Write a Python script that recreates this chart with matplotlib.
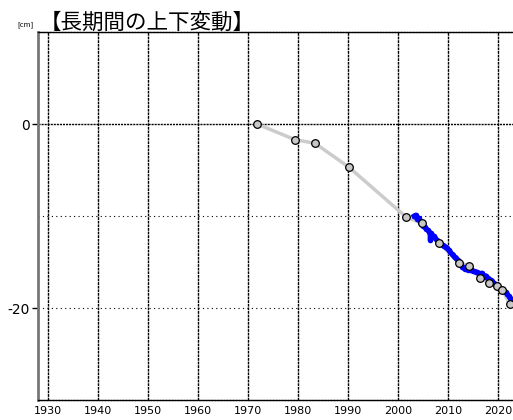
import numpy as np
import matplotlib.pyplot as plt

plt.rcParams['font.family'] = ['Noto Sans CJK JP', 'DejaVu Sans']

# 水準測量による上下変動 (cm)
survey_year = [1971.8, 1979.4, 1983.4, 1990.2, 2001.6, 2004.8, 2008.2, 2012.2,
               2014.2, 2016.4, 2018.2, 2019.8, 2020.8, 2022.4]
survey_val = [0.0, -1.7, -2.1, -4.7, -10.1, -10.8, -12.9, -15.1,
              -15.4, -16.7, -17.3, -17.6, -18.0, -19.6]

# GNSS 連続観測 (cm)
gnss_year = [2003.2, 2003.5, 2003.8, 2004.1, 2004.4, 2004.7, 2005.0, 2005.3,
             2005.6, 2005.9, 2006.2, 2006.4, 2006.45, 2006.5, 2006.8, 2007.1,
             2007.4, 2007.7, 2008.0, 2008.3, 2008.6, 2008.9, 2009.2, 2009.5,
             2009.8, 2010.1, 2010.4, 2010.7, 2011.0, 2011.3, 2011.6, 2011.9,
             2012.2, 2012.5, 2012.8, 2013.1, 2013.4, 2013.7, 2014.0, 2014.3,
             2014.6, 2014.9, 2015.2, 2015.5, 2015.8, 2016.1, 2016.4, 2016.7,
             2017.0, 2017.3, 2017.6, 2017.9, 2018.2, 2018.5, 2018.8, 2019.1,
             2019.4, 2019.7, 2020.0, 2020.3, 2020.6, 2020.9, 2021.2, 2021.5,
             2021.8, 2022.1, 2022.4, 2022.7, 2022.9]
gnss_val = [-10.0, -9.9, -10.3, -10.2, -10.6, -10.8, -11.1, -11.2,
            -11.4, -11.5, -11.7, -11.9, -12.6, -11.9, -12.1, -12.2,
            -12.4, -12.6, -12.8, -12.9, -13.0, -13.2, -13.3, -13.4,
            -13.5, -13.7, -13.9, -14.1, -14.2, -14.5, -14.6, -14.8,
            -15.0, -15.2, -15.5, -15.6, -15.8, -15.6, -15.9, -15.9,
            -15.8, -16.0, -16.0, -16.1, -16.1, -16.2, -16.3, -16.2,
            -16.4, -16.6, -16.5, -16.7, -16.9, -17.0, -17.1, -17.3,
            -17.4, -17.5, -17.6, -17.8, -17.9, -18.0, -18.2, -18.3,
            -18.5, -18.7, -18.9, -19.1, -19.3]

xticks = list(range(1930, 2030, 10))

fig = plt.figure(figsize=(5.13, 4.2), dpi=100)
ax = fig.add_axes([38 / 513, 20 / 420, 475 / 513, 368 / 420])

ax.set_xlim(1928, 2023)
ax.set_ylim(-30, 10)

# グリッド
for x in xticks:
    ax.axvline(x, color='black', lw=1.0, ls=(0, (2, 0.6)), zorder=1)
ax.axhline(0, color='black', lw=1.0, ls=(0, (1.5, 0.7)), zorder=1)
for y in [-10, -20]:
    ax.axhline(y, color='black', lw=0.8, ls=(0, (1, 3)), zorder=1)

ax.plot(survey_year, survey_val, color='#cccccc', lw=2.5, zorder=2)
ax.plot(gnss_year, gnss_val, color='blue', lw=3.5, marker='o', ms=4,
        mew=0, zorder=3)
ax.plot(survey_year, survey_val, ls='none', marker='o', ms=5.5,
        mfc='#c8c8c8', mec='black', mew=0.9, zorder=4)

ax.set_xticks(xticks)
ax.set_xticklabels([str(x) for x in xticks], fontsize=8, family='DejaVu Sans')
ax.tick_params(axis='x', length=0, pad=4)
ax.set_yticks([0, -20])
ax.set_yticklabels(['0', '-20'], fontsize=10, family='DejaVu Sans')
ax.tick_params(axis='y', length=4, width=1, pad=2)

ax.spines['left'].set_color('#777777')
ax.spines['left'].set_linewidth(2)
for s in ['top', 'bottom']:
    ax.spines[s].set_linestyle((0, (1.5, 0.7)))
    ax.spines[s].set_linewidth(1)
ax.spines['right'].set_visible(False)

fig.text(40 / 513, 1 - 29 / 420, '【長期間の上下変動】', fontsize=15.5,
         ha='left', va='baseline')
fig.text(17 / 513, 1 - 26 / 420, '[cm]', fontsize=5, ha='left',
         va='baseline', family='DejaVu Sans')

fig.savefig('out.png', dpi=100)
